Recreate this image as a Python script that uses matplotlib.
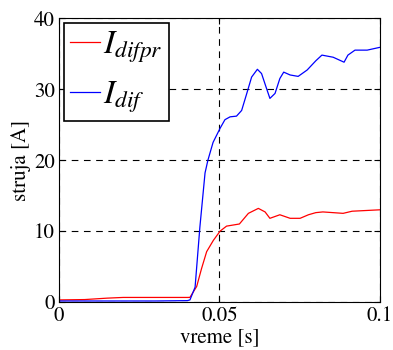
import numpy as np
import matplotlib.pyplot as plt

plt.rcParams['font.family'] = 'STIXGeneral'
plt.rcParams['mathtext.fontset'] = 'stix'

# I_dif (blue)
t_dif = [0.0, 0.010, 0.020, 0.030, 0.040, 0.0408, 0.0424, 0.0439, 0.0455, 0.0464,
         0.0480, 0.0502, 0.0517, 0.0533, 0.0553, 0.0569, 0.0585, 0.0600, 0.0618,
         0.0631, 0.0645, 0.0657, 0.0673, 0.0688, 0.0700, 0.0720, 0.0745, 0.0773,
         0.0800, 0.0819, 0.0854, 0.0888, 0.0900, 0.0922, 0.0960, 0.1000]
i_dif = [0.15, 0.15, 0.15, 0.15, 0.2, 0.3, 2.1, 10.6, 18.2, 20.0,
         22.5, 24.5, 25.7, 26.1, 26.2, 27.0, 29.4, 31.7, 32.8,
         32.2, 30.3, 28.7, 29.4, 31.5, 32.4, 32.0, 31.8, 32.7,
         34.0, 34.8, 34.5, 33.8, 34.8, 35.5, 35.5, 35.9]

# I_difpr (red)
t_difpr = [0.0, 0.008, 0.015, 0.020, 0.030, 0.040, 0.0408, 0.0429, 0.0444, 0.0460,
           0.0481, 0.0502, 0.0522, 0.0562, 0.0590, 0.0621, 0.0642, 0.0657, 0.0688,
           0.0720, 0.0751, 0.0777, 0.0800, 0.0822, 0.0885, 0.0913, 0.1000]
i_difpr = [0.3, 0.35, 0.55, 0.65, 0.65, 0.65, 0.66, 2.2, 4.7, 7.1,
           8.7, 10.0, 10.7, 11.0, 12.5, 13.2, 12.7, 11.8, 12.3,
           11.8, 11.8, 12.3, 12.6, 12.7, 12.5, 12.8, 13.0]

fig = plt.figure(figsize=(3.93, 3.5), dpi=100)
ax = fig.add_axes([0.150, 0.137, 0.817, 0.811])

ax.plot(t_difpr, i_difpr, color='red', linewidth=0.9, label=r'$I_{difpr}$')
ax.plot(t_dif, i_dif, color='blue', linewidth=0.9, label=r'$I_{dif}$')

ax.set_xlim(0, 0.1)
ax.set_ylim(0, 40)
ax.set_xticks([0, 0.05, 0.1])
ax.set_xticklabels(['0', '0.05', '0.1'])
ax.set_yticks([0, 10, 20, 30, 40])
ax.tick_params(direction='in', top=True, right=True, length=4, labelsize=15, pad=3)
ax.grid(True, color='black', linestyle=(0, (6, 5)), linewidth=0.8)

ax.set_xlabel('vreme [s]', fontsize=15, labelpad=1)
ax.set_ylabel('struja [A]', fontsize=15, labelpad=2)

leg = ax.legend(loc='upper left', fontsize=24, handlelength=0.9, handletextpad=0.1,
                borderaxespad=0.15, labelspacing=0.45, borderpad=0.18, fancybox=False,
                framealpha=1)
leg.get_frame().set_edgecolor('black')
leg.get_frame().set_linewidth(1.2)

fig.savefig('out.png', dpi=100)
